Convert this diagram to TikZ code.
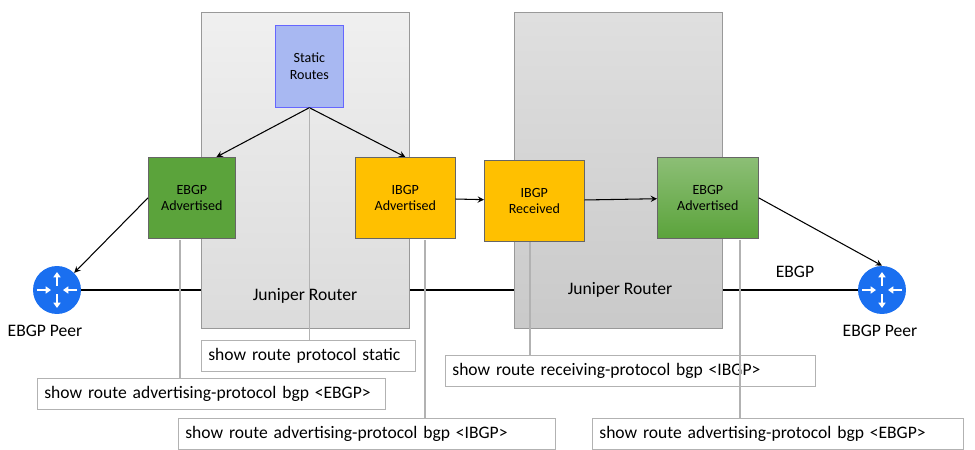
\documentclass[tikz,border=0pt]{standalone}
\usepackage{fontspec}
\setmainfont{Carlito}
\usetikzlibrary{positioning,calc,arrows.meta}
\definecolor{routerblue}{HTML}{1A6FF0}
\definecolor{ebgpgreen}{HTML}{5BA33B}
\definecolor{ibgporange}{HTML}{FFC000}
\definecolor{staticblue}{HTML}{A8B8F2}
\begin{document}
\begin{tikzpicture}[x=0.02cm,y=-0.02cm,>=stealth,
 chassis/.style={draw=gray!80,minimum width=4.16cm,minimum height=6.32cm,anchor=north west},
 rtbox/.style={draw=black!60,font=\footnotesize,align=center,minimum width=2cm,minimum height=1.62cm,anchor=north west},
 cmd/.style={draw=gray!60,fill=white,font=\normalsize,inner xsep=4pt,minimum height=0.62cm,align=left,anchor=north west},
 tap/.style={gray!60,semithick},
 flow/.style={->,semithick}]
\useasboundingbox (0,0) rectangle (975,450);
% router symbol
\newcommand{\router}[2]{%
 \node[circle,fill=routerblue,minimum size=0.96cm,inner sep=0pt] (#2) at #1 {};
 \draw[white,line width=1.3pt,-{Triangle[length=3pt,width=4pt]}] (#2.center) ++(0,-4) -- ++(0,-14);
 \draw[white,line width=1.3pt,-{Triangle[length=3pt,width=4pt]}] (#2.center) ++(0,4) -- ++(0,14);
 \draw[white,line width=1.3pt,-{Triangle[length=3pt,width=4pt]}] (#2.center) ++(-20,0) -- ++(14,0);
 \draw[white,line width=1.3pt,-{Triangle[length=3pt,width=4pt]}] (#2.center) ++(20,0) -- ++(-14,0);}
\router{(57,290)}{peerl}
\router{(882,290)}{peerr}
\draw[line width=1.5pt] (peerl) -- (peerr);
% chassis
\node[chassis,top color=gray!12,bottom color=gray!28] (jr1) at (201,12) {};
\node[chassis,top color=gray!25,bottom color=gray!42] (jr2) at (514,12) {};
\node at (305,296) {Juniper Router};
\node at (620,290) {Juniper Router};
\node at (795,272) {EBGP};
\node at (45,331) {EBGP Peer};
\node at (880,331) {EBGP Peer};
% route tables
\node[rtbox,fill=staticblue,draw=blue!60,minimum width=1.36cm,minimum height=1.64cm] (static) at (275,25) {Static\\Routes};
\node[rtbox,fill=ebgpgreen,minimum width=1.74cm] (ebgpl) at (148,157) {EBGP\\Advertised};
\node[rtbox,fill=ibgporange] (ibgpa) at (355,157) {IBGP\\Advertised};
\node[rtbox,fill=ibgporange] (ibgpr) at (484,160) {IBGP\\Received};
\node[rtbox,top color=ebgpgreen!70,bottom color=ebgpgreen,minimum width=2.02cm] (ebgpr) at (657,157) {EBGP\\Advertised};
% flows
\draw[flow] (static.south) -- ([xshift=14]ebgpl.north);
\draw[flow] (static.south) -- (ibgpa.north);
\draw[flow] (ebgpl.west) -- (peerl.north east);
\draw[flow] (ibgpa) -- (ibgpr);
\draw[flow] (ibgpr) -- (ebgpr);
\draw[flow] (ebgpr.east) -- (peerr.north);
% commands
\node[cmd,text width=4.0cm] (c1) at (201,340) {show route protocol static};
\node[cmd,text width=6.68cm] (c2) at (37,378) {show route advertising-protocol bgp <EBGP>};
\node[cmd,text width=7.26cm] (c3) at (178,418) {show route advertising-protocol bgp <IBGP>};
\node[cmd,text width=7.12cm] (c4) at (445,355) {show route receiving-protocol bgp <IBGP>};
\node[cmd,text width=7.14cm] (c5) at (592,418) {show route advertising-protocol bgp <EBGP>};
\coordinate (t2) at (180,240);
\coordinate (t3) at (425,240);
\coordinate (t4) at (530,242);
\coordinate (t5) at (740,240);
\draw[tap] (c1.north -| static.south) -- (static.south);
\draw[tap] (t2) -- (t2 |- c2.north);
\draw[tap] (t3) -- (t3 |- c3.north);
\draw[tap] (t4) -- (t4 |- c4.north);
\draw[tap] (t5) -- (t5 |- c5.north);
\end{tikzpicture}
\end{document}
